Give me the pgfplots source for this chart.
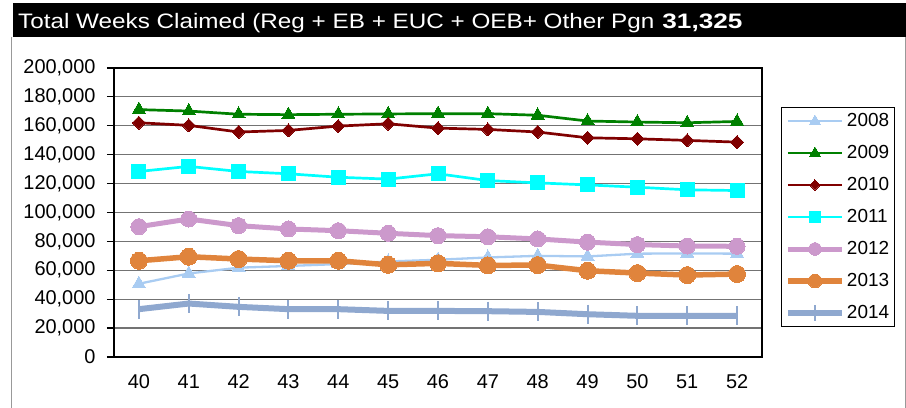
\documentclass[border=0pt]{standalone}
\usepackage{fontspec}
\setmainfont{Liberation Sans}
\usepackage{pgfplots}
\pgfplotsset{compat=1.18}

\definecolor{c2008}{HTML}{A9CCF2}
\definecolor{c2009}{HTML}{008000}
\definecolor{c2010}{HTML}{800000}
\definecolor{c2011}{HTML}{00FFFF}
\definecolor{c2012}{HTML}{CC99CC}
\definecolor{c2013}{HTML}{E0843C}
\definecolor{c2014}{HTML}{8FA8CF}

\begin{document}
\begin{tikzpicture}
\useasboundingbox (-114bp,-51bp) rectangle (792bp,357bp);
% title bar and frame
\fill[black] (-101bp,320bp) rectangle (792bp,354bp);
\draw[black!40, line width=1bp] (-102bp,320bp) -- (-102bp,-51bp);
\draw[black!40, line width=1bp] (791bp,320bp) -- (791bp,-51bp);
\node[anchor=base west, inner sep=0pt, text=white, font=\fontsize{21}{21}\selectfont]
  at (-96bp,328bp) {\scalebox{1.16}[1]{Total Weeks Claimed (Reg + EB + EUC + OEB+ Other Pgn}\hspace{8bp}\scalebox{1.25}[1]{\bfseries 31,325}};

\begin{axis}[
    at={(0,0)}, anchor=south west,
    scale only axis,
    width=648bp, height=289bp,
    xmin=39.5, xmax=52.5,
    ymin=0, ymax=200000,
    xtick={40,...,52},
    ytick={0,20000,...,200000},
    xtick pos=bottom, ytick pos=left,
    extra x ticks={39.5,40.5,...,52.5},
    extra x tick labels={},
    extra x tick style={major tick length=6bp, grid=none},
    tick align=outside,
    major tick length=7bp,
    x tick style={draw=none},
    y tick style={black, line width=1.2bp},
    ymajorgrids,
    major grid style={black!55, line width=1.2bp},
    axis line style={black, line width=2bp},
    ticklabel style={font=\fontsize{20}{20}\selectfont},
    xticklabel style={yshift=-7bp},
    yticklabel style={xshift=-8bp},
    /pgf/number format/assume math mode=true,
    yticklabel style={/pgf/number format/.cd, fixed, 1000 sep={,}},
    scaled y ticks=false,
    clip=false,
    legend cell align=left,
    legend style={at={(1.0293,0.1038)}, anchor=south west,
      draw=black, line width=1bp,
      font=\fontsize{19}{19}\selectfont,
      nodes={inner sep=2bp, text height=13bp, text depth=3bp},
      row sep=12bp, inner sep=3.5bp},
    legend image code/.code={
      \draw[mark repeat=2, mark phase=2, #1, every mark/.append style={scale=0.8}] plot coordinates {(0bp,0bp) (27bp,0bp) (54bp,0bp)};
    },
]
\addplot[c2008, line width=2.3bp, mark=triangle*, mark size=7.5bp, mark options={solid, fill=c2008, line width=0pt}] coordinates {
 (40,50700) (41,57800) (42,61800) (43,63000) (44,64300) (45,66100) (46,67300)
 (47,68900) (48,70000) (49,69600) (50,71500) (51,71700) (52,71500)};
\addplot[c2009, line width=2.7bp, mark=triangle*, mark size=7.5bp, mark options={solid, fill=c2009, line width=0pt}] coordinates {
 (40,171200) (41,170200) (42,168000) (43,167700) (44,168000) (45,168200) (46,168400)
 (47,168400) (48,167300) (49,163300) (50,162600) (51,162100) (52,163000)};
\addplot[c2010, line width=2.7bp, mark=square*, mark size=4.6bp, mark options={solid, rotate=45, fill=c2010, line width=0pt}] coordinates {
 (40,162100) (41,160300) (42,155700) (43,156800) (44,159800) (45,161400) (46,158400)
 (47,157500) (48,155700) (49,151700) (50,151000) (51,149900) (52,148700)};
\addplot[c2011, line width=2.7bp, mark=square*, mark size=7bp, mark options={solid, fill=c2011, line width=0pt}] coordinates {
 (40,128400) (41,131900) (42,128400) (43,126800) (44,124400) (45,123100) (46,126800)
 (47,122100) (48,120500) (49,119100) (50,117500) (51,115700) (52,115200)};
\addplot[c2012, line width=5bp, mark=*, mark size=8bp, mark options={solid, fill=c2012, line width=0pt}] coordinates {
 (40,90200) (41,95500) (42,90900) (43,88600) (44,87400) (45,85600) (46,84000)
 (47,83200) (48,81700) (49,79500) (50,77800) (51,76800) (52,76600)};
\addplot[c2013, line width=5.5bp, mark=*, mark size=8.5bp, mark options={solid, fill=c2013, line width=0pt}] coordinates {
 (40,66600) (41,69400) (42,67800) (43,66600) (44,66600) (45,63800) (46,64800)
 (47,63400) (48,63600) (49,59700) (50,58100) (51,56700) (52,57400)};
\addplot[c2014, line width=6bp, mark=|, mark size=9.5bp, mark options={solid, line width=2bp}] coordinates {
 (40,33100) (41,37000) (42,34700) (43,33100) (44,33100) (45,31900) (46,31900)
 (47,31700) (48,31200) (49,29600) (50,28500) (51,28500) (52,28500)};
\legend{2008,2009,2010,2011,2012,2013,2014}
\end{axis}
\end{tikzpicture}
\end{document}
